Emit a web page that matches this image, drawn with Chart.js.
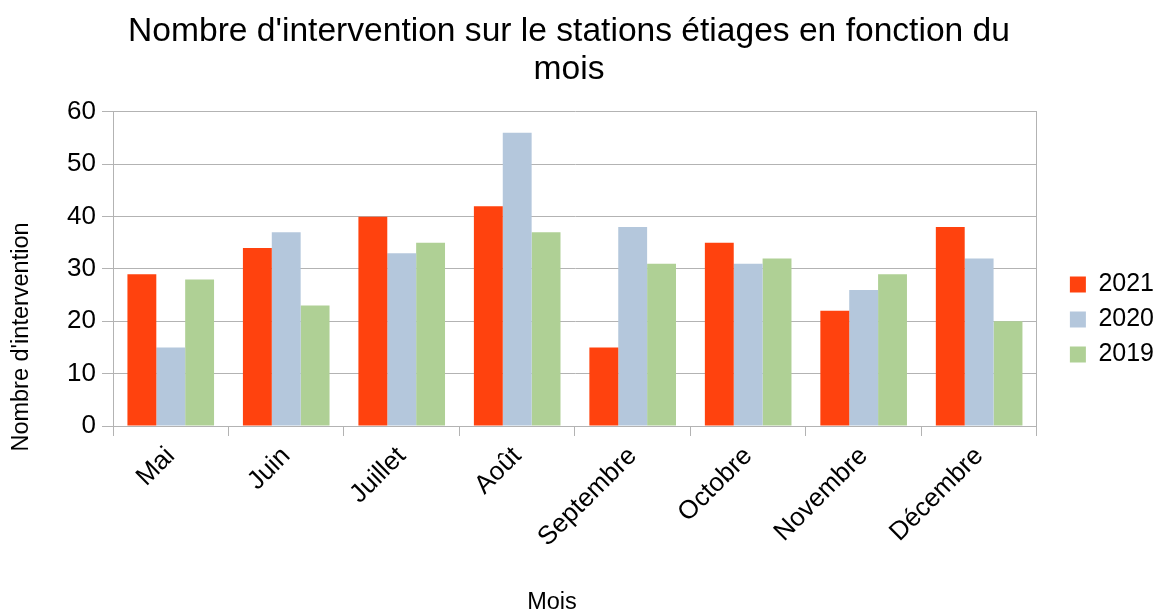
<!DOCTYPE html>
<html>
<head>
<meta charset="utf-8">
<script src="https://cdn.jsdelivr.net/npm/chart.js@4"></script>
<style>
  html, body { margin: 0; padding: 0; background: #fff; }
  #wrap { width: 1153px; height: 615px; }
</style>
</head>
<body>
<div id="wrap"><canvas id="chart" width="1153" height="615"></canvas></div>
<script>
// Data
const months = ['Mai', 'Juin', 'Juillet', 'Août', 'Septembre', 'Octobre', 'Novembre', 'Décembre'];
const y2021 = [29, 34, 40, 42, 15, 35, 22, 38];
const y2020 = [15, 37, 33, 56, 38, 31, 26, 32];
const y2019 = [28, 23, 35, 37, 31, 32, 29, 20];
const yTicks = { min: 0, max: 60, step: 10 };

const FONT = '"Liberation Sans", Arial, sans-serif';
const GRID = '#b3b3b3';

// axis titles, placed like the original (centered on the whole canvas area rather than the plot)
const axisTitles = {
  id: 'axisTitles',
  afterDraw(chart) {
    const ctx = chart.ctx;
    ctx.save();
    ctx.fillStyle = '#000';
    ctx.font = '23.5px ' + FONT;
    ctx.textAlign = 'center';
    ctx.textBaseline = 'middle';
    ctx.fillText('Mois', 552, 603);
    ctx.translate(22, 337);
    ctx.rotate(-Math.PI / 2);
    ctx.fillText("Nombre d'intervention", 0, 0);
    ctx.restore();
  }
};

new Chart(document.getElementById('chart'), {
  type: 'bar',
  data: {
    labels: months,
    datasets: [
      { label: '2021', data: y2021, backgroundColor: '#ff420e' },
      { label: '2020', data: y2020, backgroundColor: '#b4c7dc' },
      { label: '2019', data: y2019, backgroundColor: '#afd095' },
    ],
  },
  options: {
    responsive: false,
    animation: false,
    categoryPercentage: 0.75,
    barPercentage: 1.0,
    // negative side padding so the title centres where the original has it
    layout: { padding: { left: -26, right: -11, top: 0, bottom: 57 } },
    plugins: {
      title: {
        display: true,
        text: ["Nombre d'intervention sur le stations étiages en fonction du", 'mois'],
        color: '#000',
        font: { family: FONT, size: 33.6, weight: 'normal', lineHeight: 1.13 },
        padding: { top: 13, bottom: 23 },
      },
      legend: {
        position: 'right',
        align: 'start',
        title: { display: true, text: ' ', font: { size: 10 }, padding: { top: 250, bottom: 0 } },
        labels: {
          color: '#000',
          font: { family: FONT, size: 25 },
          boxWidth: 16,
          boxHeight: 16,
          padding: 10,
        },
      },
      tooltip: { enabled: false },
    },
    scales: {
      x: {
        grid: { offset: true, drawOnChartArea: false, color: GRID, tickColor: GRID, tickLength: 10 },
        border: { color: GRID },
        ticks: { color: '#000', font: { family: FONT, size: 26 }, maxRotation: 45, minRotation: 45, padding: 5 },
      },
      y: {
        min: yTicks.min,
        max: yTicks.max,
        grid: { color: GRID, tickColor: GRID, tickLength: 11 },
        border: { color: GRID },
        ticks: { stepSize: yTicks.step, color: '#000', font: { family: FONT, size: 26 }, padding: 6 },
        afterFit(scale) { scale.width = 139; },
      },
      yRight: {
        position: 'right',
        display: true,
        grid: { display: false },
        border: { color: GRID },
        ticks: { display: false },
        afterFit(scale) { scale.width = 23; },
      },
    },
  },
  plugins: [axisTitles],
});
</script>
</body>
</html>
